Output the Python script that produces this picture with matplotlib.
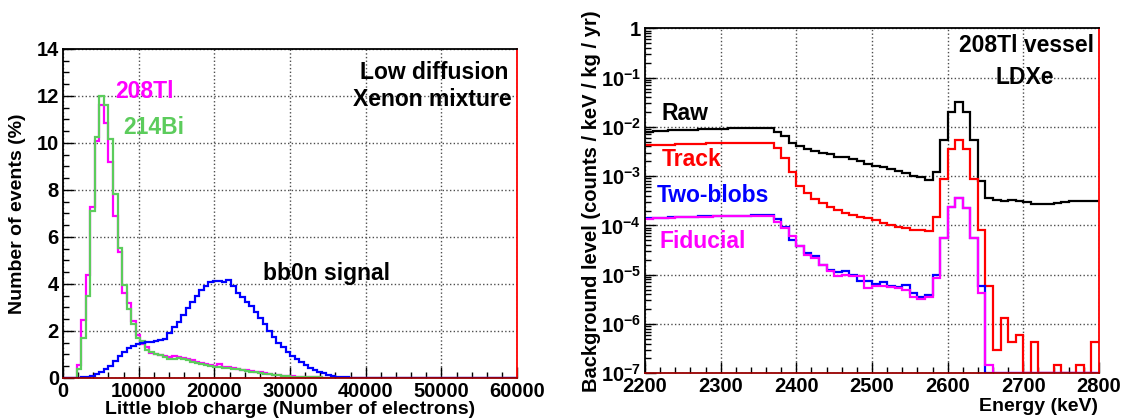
import numpy as np
import matplotlib
matplotlib.use("Agg")
import matplotlib.pyplot as plt
from matplotlib.ticker import MultipleLocator, FuncFormatter, LogLocator, NullFormatter

plt.rcParams['font.family'] = ['Liberation Sans', 'DejaVu Sans']
plt.rcParams['font.weight'] = 'bold'
plt.rcParams['mathtext.fontset'] = 'custom'
plt.rcParams['mathtext.rm'] = 'Liberation Sans:bold'
plt.rcParams['mathtext.bf'] = 'Liberation Sans:bold'
plt.rcParams['mathtext.default'] = 'bf'

# ---- left panel: little blob charge, 100 bins of 600 electrons ----
charge_edges = np.linspace(0, 60000, 101)

tl208_pct = [0, 0, 0, 0.55, 2.45, 4.4, 7.27, 10.1, 11.6, 10.85,
             9.2, 6.9, 5.37, 3.6, 3.17, 2.41, 1.85, 1.46, 1.32, 1.05,
             1.0, 0.98, 0.95, 0.9, 0.92, 0.88, 0.85, 0.8, 0.78, 0.7,
             0.62, 0.6, 0.55, 0.52, 0.58, 0.47, 0.45, 0.41, 0.38, 0.35,
             0.33, 0.3, 0.27, 0.24, 0.2, 0.17, 0.14, 0.12, 0.1, 0.08,
             0.07, 0.06, 0.05, 0.04, 0.035, 0.03, 0.025, 0.02, 0.02, 0.015,
             0.01, 0.01, 0.01, 0.01, 0.01, 0.01, 0.01, 0.01, 0.01, 0.01,
             0.005, 0.005, 0.005, 0.005, 0.005, 0.005, 0.005, 0.005, 0.005, 0.005,
             0, 0, 0, 0, 0, 0, 0, 0, 0, 0,
             0, 0, 0, 0, 0, 0, 0, 0, 0, 0]

bi214_pct = [0, 0, 0, 0.4, 1.72, 3.5, 7.1, 10.27, 12.0, 11.6,
             10.15, 7.85, 5.55, 3.95, 2.95, 2.29, 1.7, 1.56, 1.2, 1.1,
             1.0, 0.98, 0.9, 0.82, 0.8, 0.85, 0.82, 0.75, 0.7, 0.65,
             0.6, 0.55, 0.5, 0.48, 0.45, 0.44, 0.42, 0.4, 0.37, 0.33,
             0.3, 0.27, 0.24, 0.21, 0.18, 0.16, 0.13, 0.11, 0.09, 0.07,
             0.06, 0.05, 0.045, 0.04, 0.035, 0.03, 0.025, 0.02, 0.02, 0.015,
             0.01, 0.01, 0.01, 0.01, 0.01, 0.01, 0.01, 0.01, 0.01, 0.01,
             0.005, 0.005, 0.005, 0.005, 0.005, 0.005, 0.005, 0.005, 0.005, 0.005,
             0, 0, 0, 0, 0, 0, 0, 0, 0, 0,
             0, 0, 0, 0, 0, 0, 0, 0, 0, 0]

bb0n_pct = [0, 0, 0, 0.02, 0.03, 0.05, 0.085, 0.17, 0.27, 0.37,
            0.51, 0.74, 0.94, 1.12, 1.26, 1.38, 1.46, 1.5, 1.52, 1.55,
            1.57, 1.62, 1.65, 1.92, 2.16, 2.4, 2.68, 2.99, 3.22, 3.49,
            3.74, 3.91, 4.09, 4.11, 4.11, 4.1, 4.17, 3.93, 3.6, 3.43,
            3.25, 3.06, 2.79, 2.54, 2.28, 2.0, 1.76, 1.5, 1.3, 1.12,
            0.94, 0.79, 0.67, 0.55, 0.44, 0.34, 0.27, 0.2, 0.14, 0.1,
            0.06, 0.04, 0.03, 0.02, 0.01, 0.01, 0, 0, 0, 0,
            0, 0, 0, 0, 0, 0, 0, 0, 0, 0,
            0, 0, 0, 0, 0, 0, 0, 0, 0, 0,
            0, 0, 0, 0, 0, 0, 0, 0, 0, 0]

# ---- right panel: background spectra, 60 bins of 10 keV ----
energy_edges = np.arange(2200, 2810, 10)

raw_bkg = [8.0e-3, 8.1e-3, 8.3e-3, 8.5e-3, 8.6e-3, 8.7e-3, 8.8e-3, 8.9e-3, 9.0e-3, 9.1e-3,
           9.2e-3, 9.3e-3, 9.4e-3, 9.5e-3, 9.5e-3, 9.5e-3, 9.4e-3, 8.0e-3, 6.4e-3, 4.7e-3,
           4.0e-3, 3.6e-3, 3.3e-3, 3.0e-3, 2.8e-3, 2.5e-3, 2.4e-3, 2.2e-3, 2.0e-3, 1.8e-3,
           1.6e-3, 1.5e-3, 1.4e-3, 1.28e-3, 1.15e-3, 1.0e-3, 9.4e-4, 8.4e-4, 1.2e-3, 5.4e-3,
           2.0e-2, 3.2e-2, 2.0e-2, 5.4e-3, 8.0e-4, 3.6e-4, 3.3e-4, 3.2e-4, 3.3e-4, 3.15e-4,
           2.95e-4, 2.7e-4, 2.7e-4, 2.7e-4, 2.9e-4, 3.05e-4, 3.15e-4, 3.15e-4, 3.2e-4, 3.2e-4]

track_bkg = [4.2e-3, 4.25e-3, 4.3e-3, 4.35e-3, 4.4e-3, 4.45e-3, 4.5e-3, 4.55e-3, 4.6e-3, 4.65e-3,
             4.7e-3, 4.75e-3, 4.8e-3, 4.8e-3, 4.8e-3, 4.75e-3, 4.6e-3, 3.7e-3, 2.3e-3, 1.2e-3,
             6.3e-4, 4.5e-4, 3.4e-4, 2.8e-4, 2.4e-4, 2.1e-4, 1.8e-4, 1.6e-4, 1.5e-4, 1.4e-4,
             1.3e-4, 1.12e-4, 1.0e-4, 9.3e-5, 8.7e-5, 8.1e-5, 7.9e-5, 7.8e-5, 1.5e-4, 8.7e-4,
             3.5e-3, 5.5e-3, 3.5e-3, 8.7e-4, 8.1e-5, 5.8e-6, 3.0e-7, 1.3e-6, 4.4e-7, 6.0e-7,
             0, 4.4e-7, 0, 0, 1.45e-7, 0, 0, 1.45e-7, 0, 4.4e-7]

twoblob_bkg = [1.40e-4, 1.42e-4, 1.43e-4, 1.45e-4, 1.47e-4, 1.48e-4, 1.50e-4, 1.52e-4, 1.53e-4, 1.55e-4,
               1.56e-4, 1.57e-4, 1.58e-4, 1.58e-4, 1.60e-4, 1.62e-4, 1.60e-4, 1.35e-4, 9.5e-5, 5.1e-5,
               3.9e-5, 2.75e-5, 2.35e-5, 1.6e-5, 1.26e-5, 1.12e-5, 1.2e-5, 1.0e-5, 7.5e-6, 7.5e-6,
               6.5e-6, 7.0e-6, 6.0e-6, 5.6e-6, 6.3e-6, 4.2e-6, 3.6e-6, 3.9e-6, 1.0e-5, 5.5e-5,
               2.4e-4, 3.6e-4, 2.3e-4, 5.5e-5, 5.8e-6, 0, 0, 0, 0, 0,
               0, 0, 0, 0, 0, 0, 0, 0, 0, 0]

fiducial_bkg = [1.38e-4, 1.40e-4, 1.41e-4, 1.43e-4, 1.45e-4, 1.46e-4, 1.48e-4, 1.50e-4, 1.51e-4, 1.53e-4,
                1.54e-4, 1.55e-4, 1.56e-4, 1.56e-4, 1.58e-4, 1.58e-4, 1.55e-4, 1.2e-4, 8.7e-5, 6.0e-5,
                3.9e-5, 2.5e-5, 2.2e-5, 1.6e-5, 1.2e-5, 9.5e-6, 1.0e-5, 9.5e-6, 9.5e-6, 5.4e-6,
                6.0e-6, 5.8e-6, 5.6e-6, 5.4e-6, 4.8e-6, 3.5e-6, 3.2e-6, 3.6e-6, 8.5e-6, 5.5e-5,
                2.4e-4, 3.6e-4, 2.3e-4, 5.5e-5, 4.2e-6, 1.45e-7, 0, 0, 0, 0,
                0, 0, 0, 0, 0, 0, 0, 0, 0, 0]

MAGENTA = '#ff00ff'
GREEN = '#5ccc5c'
BLUE = '#0000ff'
RED = '#ff0000'

TICK_FS = 14.5
LABEL_FS = 14
NOTE_FS = 16.5


def root_frame(ax):
    # ROOT-like frame: inward ticks, dotted grid, red edges on bottom/right
    for s in ax.spines.values():
        s.set_linewidth(1.3)
    ax.spines['right'].set_color(RED)
    ax.spines['bottom'].set_color('#990000')
    ax.tick_params(which='both', direction='in', top=False, right=False,
                   labelsize=TICK_FS, pad=3, width=1)
    ax.tick_params(which='major', length=8)
    ax.tick_params(which='minor', length=4)
    ax.grid(True, which='major', linestyle=':', color='0.3', linewidth=1)
    ax.set_axisbelow(True)
    for lab in ax.get_xticklabels() + ax.get_yticklabels():
        lab.set_fontweight('bold')


def place_labels(ax, xy_x, xy_y):
    ax.xaxis.label.set_va('center')
    ax.yaxis.label.set_va('center')
    ax.xaxis.set_label_coords(*xy_x)
    ax.yaxis.set_label_coords(*xy_y)


fig = plt.figure(figsize=(11.26, 4.19), dpi=100)

# left: little blob charge
ax1 = fig.add_axes([0.0560, 0.0979, 0.4032, 0.7852])
ax1.stairs(tl208_pct, charge_edges, color=MAGENTA, lw=1.6)
ax1.stairs(bi214_pct, charge_edges, color=GREEN, lw=1.6)
ax1.stairs(bb0n_pct, charge_edges, color=BLUE, lw=1.6)
ax1.set_xlim(0, 60000)
ax1.set_ylim(0, 14)
ax1.xaxis.set_major_locator(MultipleLocator(10000))
ax1.xaxis.set_minor_locator(MultipleLocator(2000))
ax1.yaxis.set_major_locator(MultipleLocator(2))
ax1.yaxis.set_minor_locator(MultipleLocator(0.5))
root_frame(ax1)
ax1.set_xlabel('Little blob charge (Number of electrons)', fontsize=LABEL_FS, fontweight='bold')
ax1.set_ylabel('Number of events (%)', fontsize=LABEL_FS, fontweight='bold')
place_labels(ax1, (0.5, -0.097), (-0.101, 0.5))

txt = dict(fontsize=NOTE_FS, fontweight='bold', transform=ax1.transAxes, va='center')
ax1.text(0.1145, 0.872, '208Tl', color=MAGENTA, ha='left', **txt)
ax1.text(0.132, 0.760, '214Bi', color=GREEN, ha='left', **txt)
ax1.text(0.980, 0.930, 'Low diffusion', color='black', ha='right', **txt)
ax1.text(0.989, 0.845, 'Xenon mixture', color='black', ha='right', **txt)
ax1.text(0.4405, 0.319, 'bb0n signal', color='black', ha='left', **txt)

# right: background level vs energy
ax2 = fig.add_axes([0.5728, 0.1091, 0.4032, 0.8234])
floor = 1e-7  # empty bins sit on the lower frame, as in ROOT
for vals, col in [(raw_bkg, 'black'), (track_bkg, RED),
                  (twoblob_bkg, BLUE), (fiducial_bkg, MAGENTA)]:
    ax2.stairs(np.clip(vals, floor, None), energy_edges, baseline=None, color=col, lw=1.6)
ax2.set_yscale('log')
ax2.set_xlim(2200, 2800)
ax2.set_ylim(1e-7, 1)
ax2.xaxis.set_major_locator(MultipleLocator(100))
ax2.xaxis.set_minor_locator(MultipleLocator(20))
ax2.yaxis.set_major_locator(LogLocator(base=10, numticks=10))
ax2.yaxis.set_minor_locator(LogLocator(base=10, subs=np.arange(2, 10), numticks=20))
ax2.yaxis.set_minor_formatter(NullFormatter())
ax2.yaxis.set_major_formatter(FuncFormatter(
    lambda v, p: '1' if abs(v - 1) < 1e-9 else r'$10^{%d}$' % round(np.log10(v))))
root_frame(ax2)
ax2.set_xlabel('Energy (keV)', fontsize=LABEL_FS, fontweight='bold', ha='right')
ax2.set_ylabel('Background level (counts / keV / kg / yr)', fontsize=LABEL_FS + 0.5, fontweight='bold')
place_labels(ax2, (0.998, -0.097), (-0.117, 0.5))

txt2 = dict(fontsize=NOTE_FS, fontweight='bold', transform=ax2.transAxes, va='center')
ax2.text(0.989, 0.949, '208Tl vessel', color='black', ha='right', **txt2)
ax2.text(0.837, 0.856, 'LDXe', color='black', ha='center', **txt2)
ax2.text(0.037, 0.754, 'Raw', color='black', ha='left', **txt2)
ax2.text(0.037, 0.621, 'Track', color=RED, ha='left', **txt2)
ax2.text(0.026, 0.514, 'Two-blobs', color=BLUE, ha='left', **txt2)
ax2.text(0.033, 0.381, 'Fiducial', color=MAGENTA, ha='left', **txt2)

fig.savefig('out.png', dpi=100)
